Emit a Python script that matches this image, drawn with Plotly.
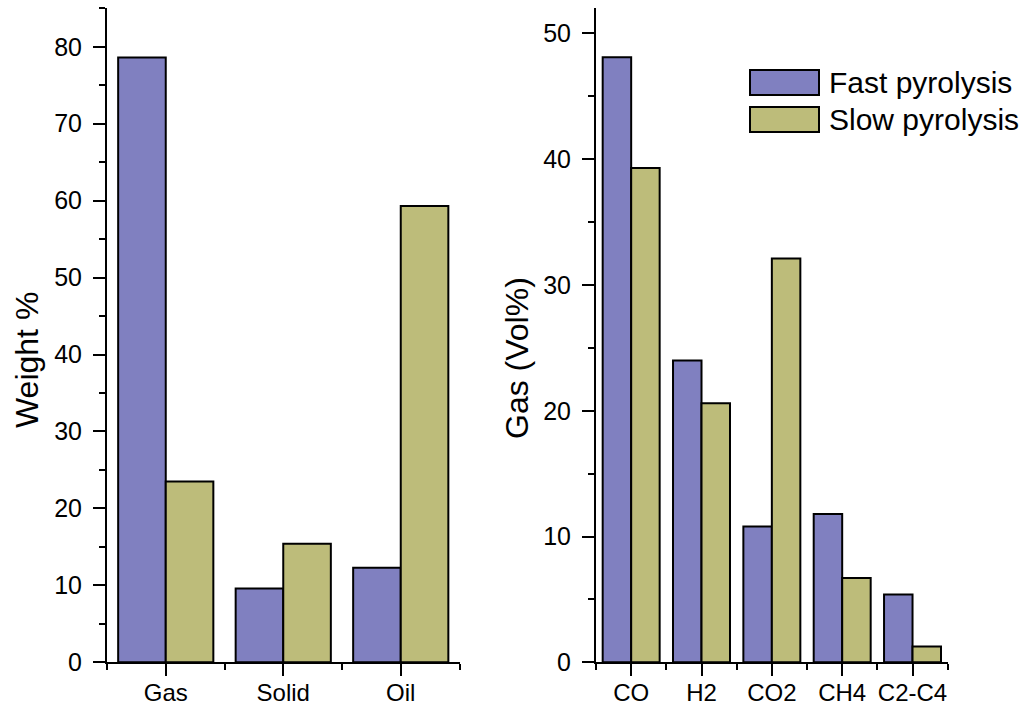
import plotly.graph_objects as go

# Product yields (wt%)
product_cats = ["Gas", "Solid", "Oil"]
product_fast = [78.6, 9.6, 12.3]
product_slow = [23.5, 15.4, 59.3]

# Gas composition (vol%)
gas_cats = ["CO", "H2", "CO2", "CH4", "C2-C4"]
gas_fast = [48.1, 24.0, 10.8, 11.8, 5.4]
gas_slow = [39.3, 20.6, 32.1, 6.7, 1.25]

series_names = ["Fast pyrolysis", "Slow pyrolysis"]
FAST_COLOR = "#8080C0"
SLOW_COLOR = "#BDBC7A"
FONT = "Liberation Sans, Arial, sans-serif"

W, H = 1027, 709


def px_x(v):
    return v / W


def px_y(v):
    return 1 - v / H


fig = go.Figure()

bar_line = dict(color="black", width=2)

fig.add_trace(go.Bar(x=list(range(len(product_cats))), y=product_fast, name=series_names[0],
                     marker=dict(color=FAST_COLOR, line=bar_line), xaxis="x", yaxis="y",
                     showlegend=False))
fig.add_trace(go.Bar(x=list(range(len(product_cats))), y=product_slow, name=series_names[1],
                     marker=dict(color=SLOW_COLOR, line=bar_line), xaxis="x", yaxis="y",
                     showlegend=False))
fig.add_trace(go.Bar(x=list(range(len(gas_cats))), y=gas_fast, name=series_names[0],
                     marker=dict(color=FAST_COLOR, line=bar_line), xaxis="x2", yaxis="y2",
                     showlegend=False))
fig.add_trace(go.Bar(x=list(range(len(gas_cats))), y=gas_slow, name=series_names[1],
                     marker=dict(color=SLOW_COLOR, line=bar_line), xaxis="x2", yaxis="y2",
                     showlegend=False))

tick_font = dict(family=FONT, size=25, color="black")
xtick_font = dict(family=FONT, size=24, color="black")


def x_axis(cats, domain, anchor):
    n = len(cats)
    return dict(
        domain=domain, anchor=anchor, range=[-0.5, n - 0.5], automargin=False,
        tickmode="array", tickvals=list(range(n)), ticktext=cats,
        ticks="outside", ticklen=12, tickwidth=2, tickcolor="black",
        minor=dict(tickmode="array", tickvals=[i - 0.5 for i in range(n + 1)],
                   ticks="outside", ticklen=6, tickwidth=2, tickcolor="black"),
        showline=True, linecolor="black", linewidth=2,
        showgrid=False, zeroline=False, tickfont=xtick_font, ticklabelstandoff=-4,
        fixedrange=True,
    )


def y_axis(ymax, domain, anchor):
    return dict(
        domain=domain, anchor=anchor, range=[0, ymax], automargin=False,
        tickmode="linear", tick0=0, dtick=10,
        ticks="outside", ticklen=12, tickwidth=2, tickcolor="black",
        minor=dict(tickmode="linear", tick0=0, dtick=5,
                   ticks="outside", ticklen=6, tickwidth=2, tickcolor="black"),
        showline=True, linecolor="black", linewidth=2,
        showgrid=False, zeroline=False, tickfont=tick_font, ticklabelstandoff=6,
        fixedrange=True,
    )


ydom = [px_y(662.3), px_y(8.3)]
fig.update_layout(
    width=W, height=H,
    margin=dict(l=0, r=0, t=0, b=0, autoexpand=False),
    paper_bgcolor="white", plot_bgcolor="white",
    barmode="group", bargap=0.19, bargroupgap=0,
    font=dict(family=FONT, color="black"),
    xaxis=x_axis(product_cats, [px_x(107), px_x(459.5)], "y"),
    yaxis=y_axis(85, ydom, "x"),
    xaxis2=x_axis(gas_cats, [px_x(596), px_x(947.7)], "y2"),
    yaxis2=y_axis(52, ydom, "x2"),
)

title_font = dict(family=FONT, size=32, color="black")
fig.add_annotation(text="Weight %", x=px_x(27), y=px_y(360), xref="paper", yref="paper",
                   textangle=-90, showarrow=False, font=title_font,
                   xanchor="center", yanchor="middle")
fig.add_annotation(text="Gas (Vol%)", x=px_x(517), y=px_y(358), xref="paper", yref="paper",
                   textangle=-90, showarrow=False, font=title_font,
                   xanchor="center", yanchor="middle")

# Legend swatches and labels
legend_rows = [(series_names[0], FAST_COLOR, 70, 95), (series_names[1], SLOW_COLOR, 107, 132)]
for name, color, top, bottom in legend_rows:
    fig.add_shape(type="rect", xref="paper", yref="paper",
                  x0=px_x(750), x1=px_x(819), y0=px_y(bottom), y1=px_y(top),
                  fillcolor=color, line=dict(color="black", width=2))
    fig.add_annotation(text=name, x=px_x(827), y=px_y((top + bottom) / 2),
                       xref="paper", yref="paper", showarrow=False,
                       xanchor="left", yanchor="middle",
                       font=dict(family=FONT, size=30, color="black"))

fig.write_html("out.html")
